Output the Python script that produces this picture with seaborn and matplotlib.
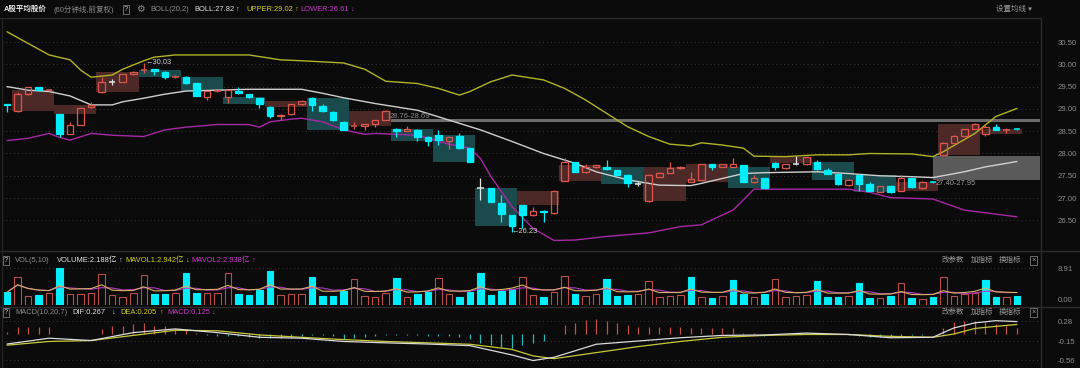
import numpy as np
import pandas as pd
import seaborn as sns
import matplotlib.pyplot as plt
from matplotlib import transforms
from matplotlib.patches import Rectangle

# velas de 60 minutos (indice 0..96)
opens = [29.10, 28.95, 29.33, 29.48, 29.42, 28.88, 28.44, 28.64, 29.04, 29.37,
         29.61, 29.61, 29.775, 29.88, 29.89, 29.83, 29.71, 29.71, 29.57, 29.27,
         29.40, 29.26, 29.41, 29.33, 29.24, 29.05, 28.83, 28.88, 29.10, 29.25,
         29.06, 28.94, 28.71, 28.62, 28.62, 28.66, 28.75, 28.56, 28.51, 28.53,
         28.38, 28.42, 28.29, 28.39, 28.12, 27.22, 27.22, 26.90, 26.62, 26.84,
         26.61, 26.72, 26.66, 27.39, 27.80, 27.58, 27.69, 27.70, 27.63, 27.52,
         27.32, 26.93, 27.48, 27.57, 27.67, 27.37, 27.41, 27.76, 27.70, 27.70,
         27.74, 27.35, 27.44, 27.79, 27.67, 27.76, 27.76, 27.82, 27.64, 27.54,
         27.29, 27.52, 27.31, 27.14, 27.28, 27.17, 27.44, 27.22, 27.36, 27.97,
         28.24, 28.40, 28.55, 28.44, 28.60, 28.52, 28.55]
closes = [29.08, 29.33, 29.48, 29.42, 29.43, 28.44, 28.64, 29.03, 29.09, 29.61,
          29.61, 29.775, 29.83, 29.89, 29.85, 29.72, 29.72, 29.57, 29.29, 29.40,
          29.41, 29.42, 29.35, 29.26, 29.10, 28.85, 28.86, 29.10, 29.18, 29.09,
          28.95, 28.74, 28.53, 28.63, 28.66, 28.75, 28.96, 28.51, 28.56, 28.38,
          28.27, 28.30, 28.38, 28.12, 27.82, 27.22, 26.92, 26.64, 26.38, 26.61,
          26.72, 26.68, 27.17, 27.80, 27.59, 27.70, 27.74, 27.65, 27.52, 27.33,
          27.32, 27.52, 27.57, 27.67, 27.70, 27.42, 27.76, 27.70, 27.76, 27.76,
          27.37, 27.46, 27.23, 27.69, 27.76, 27.76, 27.93, 27.65, 27.55, 27.31,
          27.41, 27.32, 27.17, 27.26, 27.13, 27.44, 27.24, 27.37, 27.35, 28.24,
          28.40, 28.55, 28.67, 28.60, 28.53, 28.53, 28.54]
highs = [29.10, 29.38, 29.50, 29.49, 29.45, 28.89, 28.70, 29.05, 29.16, 29.71,
         29.68, 29.78, 29.84, 30.03, 29.90, 29.84, 29.75, 29.74, 29.58, 29.41,
         29.42, 29.43, 29.50, 29.34, 29.25, 29.06, 28.88, 29.11, 29.19, 29.26,
         29.12, 28.95, 28.72, 28.70, 28.67, 28.76, 28.97, 28.58, 28.62, 28.54,
         28.39, 28.53, 28.39, 28.45, 28.13, 27.45, 27.23, 27.07, 26.63, 26.85,
         26.81, 26.73, 27.18, 27.89, 27.82, 27.77, 27.75, 27.85, 27.64, 27.53,
         27.35, 27.53, 27.58, 27.82, 27.71, 27.59, 27.77, 27.77, 27.77, 27.91,
         27.75, 27.51, 27.45, 27.80, 27.77, 27.95, 27.94, 27.86, 27.68, 27.55,
         27.42, 27.53, 27.37, 27.27, 27.29, 27.51, 27.45, 27.38, 27.39, 28.25,
         28.41, 28.56, 28.68, 28.66, 28.66, 28.58, 28.58]
lows = [28.92, 28.94, 29.32, 29.41, 29.41, 28.36, 28.43, 28.63, 29.03, 29.36,
        29.53, 29.60, 29.77, 29.80, 29.77, 29.68, 29.70, 29.56, 29.28, 29.19,
        29.39, 29.14, 29.34, 29.25, 29.03, 28.79, 28.75, 28.87, 29.09, 28.96,
        28.94, 28.73, 28.52, 28.55, 28.53, 28.60, 28.74, 28.38, 28.50, 28.29,
        28.16, 28.19, 28.09, 28.11, 27.81, 26.96, 26.91, 26.47, 26.23, 26.32,
        26.60, 26.46, 26.65, 27.38, 27.58, 27.57, 27.68, 27.64, 27.51, 27.25,
        27.28, 26.92, 27.47, 27.56, 27.66, 27.36, 27.40, 27.63, 27.69, 27.69,
        27.36, 27.34, 27.22, 27.63, 27.66, 27.74, 27.75, 27.64, 27.54, 27.30,
        27.28, 27.17, 27.16, 27.13, 27.12, 27.16, 27.23, 27.21, 27.33, 27.96,
        28.23, 28.39, 28.54, 28.39, 28.52, 28.47, 28.52]

# volume (亿) e cor de cada barra (R = sobe, C = desce)
volumes = [3.05, 6.67, 2.25, 2.41, 2.97, 8.91, 2.57, 2.57, 2.81, 7.47,
           2.41, 2.01, 2.81, 7.23, 2.57, 2.57, 2.81, 7.63, 2.81, 2.81,
           2.81, 7.63, 2.57, 2.41, 3.61, 8.19, 2.41, 2.57, 2.57, 6.83,
           2.25, 2.25, 3.45, 6.26, 2.25, 2.00, 2.81, 6.42, 2.00, 2.57,
           3.05, 6.58, 2.57, 2.00, 3.21, 7.63, 2.41, 3.37, 3.77, 6.83,
           2.30, 2.00, 3.21, 7.07, 2.65, 2.25, 2.65, 6.26, 2.25, 2.41,
           2.57, 5.78, 2.00, 2.25, 2.41, 6.83, 2.00, 1.77, 2.25, 6.02,
           2.57, 1.85, 2.57, 6.26, 2.00, 2.10, 2.41, 5.78, 2.00, 2.00,
           2.25, 5.38, 1.60, 1.77, 2.25, 5.22, 1.77, 1.45, 2.00, 6.83,
           2.25, 2.57, 2.81, 6.02, 2.00, 2.00, 2.19]
vol_dir = ("CRRCRCRRRR" "RRRRCCRCCR" "RRCCCCRRRC" "CCCRRRRCRC" "CRRCCCCCCR"
           "RCRRCRRCCC" "RRRRRCRCRC" "CRCRRRRCCC" "RCCRCRCRCR" "RRRCCRC")

# histograma do MACD
macd_hist = [0.04, 0.15, 0.15, 0.15, 0.15, 0.01, 0.01, -0.01, 0.01, 0.11,
             0.18, 0.18, 0.22, 0.24, 0.18, 0.18, 0.11, 0.08, 0.02, -0.03,
             -0.04, -0.05, -0.05, -0.06, -0.08, -0.09, -0.09, -0.08, -0.05, -0.03,
             -0.03, -0.05, -0.10, -0.08, -0.07, -0.04, -0.03, -0.03, -0.03, -0.03,
             -0.05, -0.05, -0.04, -0.07, -0.10, -0.19, -0.24, -0.28, -0.31, -0.24,
             -0.20, -0.14, -0.01, 0.19, 0.23, 0.30, 0.32, 0.29, 0.24, 0.19,
             0.16, 0.16, 0.16, 0.16, 0.16, 0.12, 0.12, 0.14, 0.12, 0.12,
             0.03, 0.02, -0.04, 0.01, 0.01, 0.02, 0.02, 0.02, 0.01, 0.00,
             -0.02, -0.05, -0.06, -0.07, -0.06, -0.05, -0.03, -0.02, 0.00, 0.14,
             0.25, 0.29, 0.27, 0.25, 0.21, 0.18, 0.125]
macd_idx = [0, 4, 8, 12, 16, 20, 24, 28, 32, 36, 40, 44, 48, 50,
            52, 56, 60, 64, 68, 72, 76, 80, 84, 88, 90, 92, 94, 96]
dif = [-0.215, -0.09, -0.14, 0.03, 0.11, 0.03, -0.07, -0.09, -0.16, -0.19, -0.215, -0.25, -0.45, -0.57,
       -0.50, -0.22, -0.15, -0.08, -0.03, -0.02, 0.02, -0.01, -0.08, -0.07, 0.13, 0.24, 0.287, 0.267]
dea = [-0.24, -0.16, -0.14, -0.03, 0.08, 0.07, -0.02, -0.07, -0.12, -0.16, -0.19, -0.22, -0.33, -0.47,
       -0.53, -0.40, -0.27, -0.16, -0.07, -0.03, -0.01, -0.01, -0.05, -0.07, 0.00, 0.12, 0.165, 0.205]

upper_idx = [0, 2, 4, 6, 7, 8, 10, 11, 13, 14, 16, 20, 23, 26, 28, 32, 34, 36, 39, 41,
             43, 44, 46, 48, 51, 53, 55, 57, 59, 61, 63, 65, 66, 68, 70, 71, 74, 77, 80, 82,
             86, 88, 89, 92, 94, 96]
upper = [30.73, 30.47, 30.21, 30.10, 29.87, 29.71, 29.76, 29.89, 30.08, 30.16,
         30.21, 30.21, 30.21, 30.10, 30.08, 30.03, 29.89, 29.62, 29.57, 29.46,
         29.31, 29.39, 29.61, 29.76, 29.65, 29.46, 29.20, 28.90, 28.60, 28.38,
         28.21, 28.17, 28.24, 28.19, 28.12, 27.94, 27.93, 27.97, 27.97, 28.00,
         27.99, 27.93, 28.04, 28.45, 28.83, 29.01]
mid_idx = [0, 2, 4, 6, 8, 10, 11, 13, 15, 17, 20, 23, 28, 30, 32, 35, 39, 42, 45, 48,
           51, 54, 56, 59, 62, 65, 66, 68, 70, 72, 77, 80, 83, 86, 88, 91, 93, 96]
mid = [29.50, 29.42, 29.39, 29.29, 29.09, 29.09, 29.16, 29.24, 29.33, 29.40,
       29.42, 29.44, 29.44, 29.35, 29.25, 29.12, 28.97, 28.75, 28.53, 28.27,
       28.00, 27.78, 27.59, 27.41, 27.29, 27.28, 27.33, 27.44, 27.55, 27.57,
       27.59, 27.55, 27.50, 27.48, 27.46, 27.59, 27.70, 27.82]
lower_idx = [0, 2, 4, 5, 6, 8, 10, 13, 15, 17, 20, 23, 24, 25, 27, 28, 30, 32, 34, 35,
             39, 42, 44, 45, 46, 48, 50, 52, 54, 57, 61, 64, 66, 67, 69, 70, 71, 74, 80, 82,
             84, 88, 91, 93, 96]
lower = [28.29, 28.34, 28.45, 28.36, 28.30, 28.45, 28.41, 28.38, 28.53, 28.59,
         28.65, 28.65, 28.59, 28.71, 28.77, 28.79, 28.71, 28.53, 28.43, 28.45,
         28.41, 28.21, 28.12, 27.89, 27.48, 26.81, 26.32, 26.05, 26.06, 26.14,
         26.22, 26.36, 26.40, 26.51, 26.73, 26.96, 27.20, 27.20, 27.20, 27.13,
         27.01, 26.98, 26.73, 26.67, 26.58]

price_ticks = [26.5, 27.0, 27.5, 28.0, 28.5, 29.0, 29.5, 30.0, 30.5]

BG = '#0b0b0b'
RED = '#dc564e'
CYAN = '#00eefc'
GRAY = '#8c8c8c'
YEL = '#d2d21e'
MAG = '#cc3ccc'

sns.set_theme(style='dark', rc={'axes.facecolor': BG, 'figure.facecolor': BG,
                                'axes.edgecolor': BG, 'grid.color': '#3a3a3a'})
plt.rcParams['font.family'] = ['Liberation Sans', 'Noto Sans CJK SC', 'DejaVu Sans']

W, H = 1080, 368
fig = plt.figure(figsize=(10.8, 3.68), dpi=100)
rend = fig.canvas.get_renderer()


def painel(x0, y0, x1, y1):
    return fig.add_axes([x0 / W, 1 - y1 / H, (x1 - x0) / W, (y1 - y0) / H])


def texto(x, y, s, cor=GRAY, **kw):
    kw.setdefault('fontsize', 5.4)
    return fig.text(x / W, 1 - y / H, s, color=cor, va='center', ha='left', **kw)


def fila(y, partes):
    # coloca os textos em sequencia sem deixar um cobrir o outro
    fim = 0
    for x, s, cor in partes:
        x = max(x, fim + 2)
        t = texto(x, y, s, cor)
        fim = t.get_window_extent(rend).x1


def linha(x0, y0, x1, y1, cor='#2c2c2c'):
    fig.add_artist(plt.Line2D([x0 / W, x1 / W], [1 - y0 / H, 1 - y1 / H],
                              transform=fig.transFigure, color=cor, lw=1))


ax_p = painel(2, 19, 1040, 250)
ax_v = painel(2, 264, 1040, 305)
ax_m = painel(2, 318, 1040, 364)

n = len(closes)
x = np.arange(n)
XMIN, XMAX = -0.475, 98.19

for ax in (ax_p, ax_v, ax_m):
    ax.set_xlim(XMIN, XMAX)
    ax.set_xticks([])
    ax.yaxis.tick_right()
    ax.tick_params(axis='y', length=0, pad=13, labelsize=5.6, labelcolor=GRAY)
    ax.grid(axis='y', color='#3a3a3a', ls=(0, (1, 3)), lw=0.7)
    for s in ax.spines.values():
        s.set_visible(False)

# ---- painel de preco ----
ax_p.set_ylim(25.836, 31.016)
ax_p.set_yticks(price_ticks)
ax_p.set_yticklabels([f'{t:.2f}' for t in price_ticks])

# caixas de 4 velas (um dia)
for g in range(1, n, 4):
    fim = min(g + 3, n - 1)
    o, c = opens[g], closes[fim]
    cor = '#4c2927' if c >= o else '#1b4a4d'
    ax_p.add_patch(Rectangle((g - 0.5, min(o, c)), fim - g + 1, abs(c - o),
                             facecolor=cor, edgecolor='none', zorder=1))

ax_p.add_patch(Rectangle((36.5, 28.70), XMAX - 36.5, 0.07, facecolor='#6c6c6c',
                         edgecolor='none', zorder=1))
ax_p.add_patch(Rectangle((88.0, 27.40), XMAX - 88.0, 0.55, facecolor='#5a5a5a',
                         edgecolor='none', zorder=1))

sns.lineplot(x=upper_idx, y=upper, ax=ax_p, color='#b2b228', lw=1, zorder=2)
sns.lineplot(x=mid_idx, y=mid, ax=ax_p, color='#cfcfcf', lw=1, zorder=2)
sns.lineplot(x=lower_idx, y=lower, ax=ax_p, color='#a628a6', lw=1, zorder=2)

for i in range(n):
    o, h, l, c = opens[i], highs[i], lows[i], closes[i]
    if c > o:
        cor, face = RED, 'none'
    elif c < o:
        cor, face = CYAN, CYAN
    else:
        cor, face = '#e4e4e4', '#e4e4e4'
    top, bot = max(o, c), min(o, c)
    ax_p.vlines(i, top, h, color=cor, lw=0.9, zorder=3)
    ax_p.vlines(i, l, bot, color=cor, lw=0.9, zorder=3)
    if top - bot < 0.012:
        ax_p.hlines(o, i - 0.31, i + 0.31, color=cor, lw=1.1, zorder=4)
    else:
        ax_p.add_patch(Rectangle((i - 0.31, bot), 0.62, top - bot, facecolor=face,
                                 edgecolor=cor, lw=0.9, zorder=4))

ax_p.text(13.2, 30.05, '←30.03', color='#d2d2d2', fontsize=5.4, va='center', zorder=5)
ax_p.text(48.0, 26.24, '←26.23', color='#d2d2d2', fontsize=5.4, va='center', zorder=5)
ax_p.text(36.4, 28.82, '28.76-28.69', color='#8c8c8c', fontsize=5.4, va='center', zorder=5)
ax_p.text(88.3, 27.32, '27.40-27.95', color='#9a9a9a', fontsize=5.4, va='center', zorder=5)

# ---- painel de volume ----
ax_v.set_ylim(0, 9.88)
ax_v.set_yticks([0, 8.91])
ax_v.set_yticklabels(['0.00', '8.91'])
desloca = transforms.ScaledTranslation(0, 0.05, fig.dpi_scale_trans)
lab0 = ax_v.get_yticklabels()[0]
lab0.set_transform(lab0.get_transform() + desloca)

faces = [CYAN if d == 'C' else 'none' for d in vol_dir]
bordas = [CYAN if d == 'C' else '#b84e48' for d in vol_dir]
ax_v.bar(x, volumes, width=0.62, color=faces, edgecolor=bordas, lw=0.8, zorder=2)
ma5 = pd.Series(volumes).rolling(5, min_periods=1).mean()
ma10 = pd.Series(volumes).rolling(10, min_periods=1).mean()
sns.lineplot(x=x, y=ma10, ax=ax_v, color='#b23cc4', lw=0.8, zorder=3)
sns.lineplot(x=x, y=ma5, ax=ax_v, color='#d8b060', lw=0.8, zorder=3)

# ---- painel MACD ----
ax_m.set_ylim(-0.6445, 0.3445)
ax_m.set_yticks([-0.56, -0.15, 0.28])
ax_m.set_yticklabels(['-0.56', '-0.15', '0.28'])
cores_h = ['#c4504a' if v >= 0 else '#2cb4b4' for v in macd_hist]
ax_m.vlines(x, 0, macd_hist, colors=cores_h, lw=0.9, zorder=2)
sns.lineplot(x=macd_idx, y=dea, ax=ax_m, color='#c8c83c', lw=0.9, zorder=3)
sns.lineplot(x=macd_idx, y=dif, ax=ax_m, color='#dadada', lw=0.9, zorder=3)

for ax in (ax_p, ax_v, ax_m):
    ax.set_xlabel('')
    ax.set_ylabel('')

# ---- moldura ----
linha(0, 17.5, 1040, 17.5, '#262626')
linha(0, 251, W, 251)
linha(0, 307, W, 307)
linha(1040.5, 17.5, 1040.5, H)
linha(1.5, 17.5, 1.5, H, '#222222')

# ---- cabecalhos ----
caixa = dict(boxstyle='square,pad=0.15', fc='none', ec='#7a7a7a', lw=0.6)
texto(4, 9.5, 'A股平均股价', '#ececec', fontweight='bold')
texto(53, 9.5, '(60分钟线,前复权)')
texto(124, 9.5, '?', '#bdbdbd', bbox=caixa)
texto(136, 9.5, '⚙', '#8c8c8c', fontsize=7)
fila(9.5, [(150, 'BOLL(20,2)', GRAY), (194, 'BOLL:27.82', '#e2e2e2'), (236, '↑', '#e2e2e2'),
           (246, 'UPPER:29.02', YEL), (291, '↑', YEL),
           (300, 'LOWER:26.61', MAG), (345, '↓', MAG)])
texto(996, 9.5, '设置均线 ▾', '#9a9a9a')

texto(4, 260.5, '?', '#bdbdbd', bbox=caixa)
fila(260.5, [(15, 'VOL(5,10)', GRAY), (57, 'VOLUME:2.188亿', '#e2e2e2'), (116, '↑', '#e2e2e2'),
             (123, 'MAVOL1:2.942亿', YEL), (182, '↓', YEL),
             (190, 'MAVOL2:2.938亿', MAG), (250, '↑', MAG)])

texto(4, 312.5, '?', '#bdbdbd', bbox=caixa)
fila(312.5, [(15, 'MACD(10,20,7)', GRAY), (72, 'DIF:0.267', '#e2e2e2'), (112, '↓', '#e2e2e2'),
             (120, 'DEA:0.205', YEL), (160, '↑', YEL),
             (167, 'MACD:0.125', MAG), (210, '↓', MAG)])

for y in (260.5, 312.5):
    texto(942, y, '改参数', '#9a9a9a')
    texto(971, y, '加指标', '#9a9a9a')
    texto(999, y, '换指标', '#9a9a9a')
    texto(1031, y, '×', '#9a9a9a', bbox=caixa)

plt.savefig('out.png', dpi=100, facecolor=BG)
